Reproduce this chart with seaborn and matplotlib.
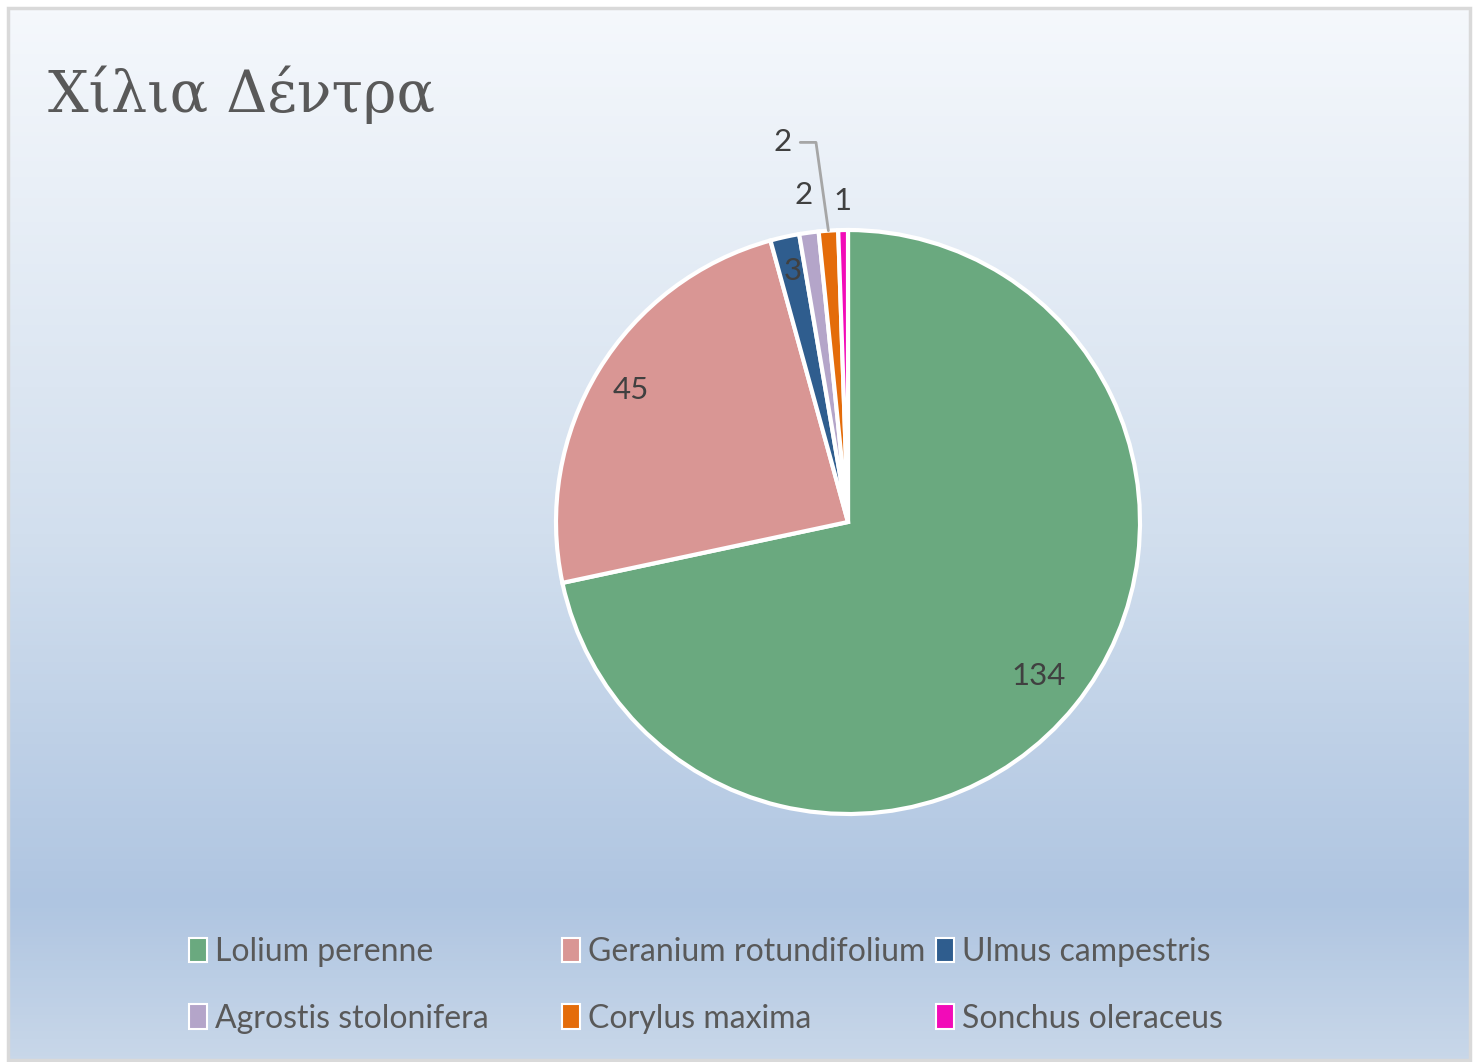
import numpy as np
import seaborn as sns
import matplotlib.pyplot as plt
from matplotlib.colors import LinearSegmentedColormap
from matplotlib.patches import Rectangle, Patch

species = ["Lolium perenne", "Geranium rotundifolium", "Ulmus campestris",
           "Agrostis stolonifera", "Corylus maxima", "Sonchus oleraceus"]
counts = [134, 45, 3, 2, 2, 1]
colors = ["#6aa97f", "#d99694", "#2f5d8e", "#b4a5c9", "#e46c0a", "#f20bb8"]
title = "Χίλια Δέντρα"

sns.set_theme(style="white")
plt.rcParams['font.family'] = ['Lato', 'DejaVu Sans']

W, H = 1478, 1062
fig = plt.figure(figsize=(W / 100, H / 100), dpi=100)
fig.patch.set_facecolor("white")

# background gradient panel
bg = fig.add_axes([0, 0, 1, 1], zorder=0)
bg.set_xlim(0, W)
bg.set_ylim(H, 0)
bg.axis("off")
cmap = LinearSegmentedColormap.from_list(
    "bg", [(0, "#f5f8fc"), (0.5, "#d2dfee"), (0.85, "#afc5e1"), (1, "#c8d7e9")])
grad = np.linspace(0, 1, 256).reshape(-1, 1)
bg.imshow(grad, cmap=cmap, extent=[9, W - 9, H - 2, 9], aspect="auto")
bg.add_patch(Rectangle((8, 8), W - 16, H - 10, fill=False, ec="#d9d9d9", lw=2.5))
bg.text(48, 95, title, fontsize=41, color="#595959", family=["DejaVu Serif"],
        va="center", ha="left")

# pie
cx, cy, r = 848, 522, 292
ax = fig.add_axes([(cx - r) / W, (H - cy - r) / H, 2 * r / W, 2 * r / H], zorder=1)
wedges, _ = ax.pie(counts, colors=colors, startangle=90, counterclock=False, radius=1,
                   wedgeprops=dict(edgecolor="white", linewidth=3))
ax.set_xlim(-1, 1)
ax.set_ylim(-1, 1)
ax.axis("off")

label_kw = dict(fontsize=22.5, color="#404040", ha="center", va="center")
dists = [0.84, 0.87, 0.88, 1.13, None, 1.10]
for w, n, d in zip(wedges, counts, dists):
    mid = np.deg2rad((w.theta1 + w.theta2) / 2)
    if d is None:
        xy = (np.cos(mid), np.sin(mid))
        ax.annotate(str(n), xy=xy, xytext=(-0.225, 1.30), **label_kw,
                    arrowprops=dict(arrowstyle="-", color="#a6a6a6", lw=2,
                                    shrinkA=4, shrinkB=0,
                                    connectionstyle="angle,angleA=0,angleB=98,rad=0"))
    else:
        ax.text(d * np.cos(mid), d * np.sin(mid), str(n), **label_kw, clip_on=False)

# legend: two rows of three equal-width columns
handles = [Patch(facecolor=c, edgecolor="white", linewidth=1.5) for c in colors]
col_x = [189, 562, 936]
for j in range(3):
    fig.legend([handles[j], handles[j + 3]], [species[j], species[j + 3]],
               loc="upper left", bbox_to_anchor=(col_x[j] / W, 1 - 937 / H),
               frameon=False, fontsize=23, labelcolor="#595959",
               handlelength=0.55, handleheight=0.8, handletextpad=0.25,
               labelspacing=1.15, borderpad=0, borderaxespad=0)

fig.savefig("out.png", dpi=100)
